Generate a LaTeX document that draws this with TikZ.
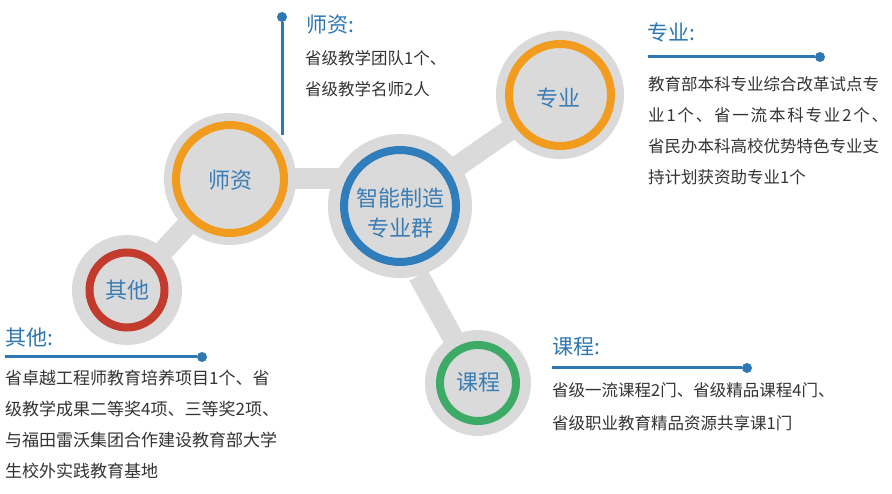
\documentclass[tikz,border=0pt]{standalone}
\usepackage{fontspec}
\setmainfont{Noto Sans CJK SC}
\usetikzlibrary{backgrounds}
\definecolor{diskgray}{HTML}{DADADA}
\definecolor{ringblue}{HTML}{2F7DBA}
\definecolor{ringorange}{HTML}{F29C1F}
\definecolor{ringred}{HTML}{C23B2C}
\definecolor{ringgreen}{HTML}{3DAA68}
\definecolor{nodeblue}{HTML}{3B7DB5}
\definecolor{titleblue}{HTML}{2D77B3}
\definecolor{bodygray}{HTML}{333333}
\begin{document}
\begin{tikzpicture}[x=1pt,y=-1pt,
  disk/.style={circle, fill=diskgray, inner sep=0pt, minimum size=#1},
  ring/.style={circle, draw=#1, line width=8pt, inner sep=0pt},
  ringtext/.style={inner sep=0pt, text=nodeblue, align=center, font=\fontsize{22}{30}\selectfont},
  bar/.style={draw=diskgray, line width=21pt},
  title/.style={anchor=west, inner sep=0pt, text=titleblue, font=\fontsize{21}{24}\selectfont},
  body/.style={anchor=west, inner sep=0pt, align=left, text=bodygray, font=\fontsize{16.5}{31}\selectfont},
  lead/.style={draw=titleblue, line width=3pt},
  dot/.style={circle, fill=titleblue, inner sep=0pt, minimum size=10pt}]
\useasboundingbox (0,0) rectangle (892,494);

% gray disks
\node[disk=144pt] (c) at (400,206) {};
\node[disk=132pt] (s) at (230,179) {};
\node[disk=128pt] (z) at (560,95) {};
\node[disk=110pt] (o) at (127,290) {};
\node[disk=106pt] (k) at (478,383) {};

% connecting bars behind the disks
\begin{scope}[on background layer]
  \fill[white] (0,0) rectangle (892,494);
  \draw[bar] (s.center) -- (s.center -| c.center);
  \draw[bar] (s.center) -- (o.center);
  \draw[bar] (c.center) -- (z.center);
  \draw[bar] (c.-75) -- (k.center);
\end{scope}

% coloured rings
\node[ring=ringblue, minimum size=112pt] (c-r) at (c) {};
\node[ring=ringorange, minimum size=108pt] (s-r) at (s) {};
\node[ring=ringorange, minimum size=102pt] (z-r) at (z) {};
\node[ring=ringred, minimum size=75pt] (o-r) at (o) {};
\node[ring=ringgreen, minimum size=76pt] (k-r) at (k) {};

% ring labels
\node[ringtext] (c-t) at (400,213) {智能制造\\专业群};
\node[ringtext] (s-t) at (230,180) {师资};
\node[ringtext] (z-t) at (558,98) {专业};
\node[ringtext] (o-t) at (127,290) {其他};
\node[ringtext] (k-t) at (478,382) {课程};

% 师资 callout
\node[dot] (s-d) at (282,17) {};
\coordinate (s-e) at (282,135);
\draw[lead] (s-d) -- (s-e);
\node[title] (s-h) at (306,25) {师资:};
\node[body] (s-b) at (305,73.5) {省级教学团队1个、\\省级教学名师2人};

% 专业 callout
\node[title] (z-h) at (647,33) {专业:};
\coordinate (z-e) at (648,57);
\node[dot] (z-d) at (820,57) {};
\draw[lead] (z-e) -- (z-d);
\node[body] (z-b) at (648,130.5) {教育部本科专业综合改革试点专\\{\addfontfeature{LetterSpace=11}业1个、省一流本科专业2个、}\\省民办本科高校优势特色专业支\\持计划获资助专业1个};

% 其他 callout
\node[title] (o-h) at (5,338) {其他:};
\coordinate (o-e) at (5,357);
\node[dot] (o-d) at (202,357) {};
\draw[lead] (o-e) -- (o-d);
\node[body, font=\fontsize{17}{30.7}\selectfont] (o-b) at (5,424.5) {省卓越工程师教育培养项目1个、省\\级教学成果二等奖4项、三等奖2项、\\与福田雷沃集团合作建设教育部大学\\生校外实践教育基地};

% 课程 callout
\node[title] (k-h) at (552,347) {课程:};
\coordinate (k-e) at (552,368);
\node[dot] (k-d) at (747,368) {};
\draw[lead] (k-e) -- (k-d);
\node[body, font=\fontsize{16.5}{33}\selectfont] (k-b) at (552,406.5) {省级一流课程2门、省级精品课程4门、\\省级职业教育精品资源共享课1门};
\end{tikzpicture}
\end{document}
